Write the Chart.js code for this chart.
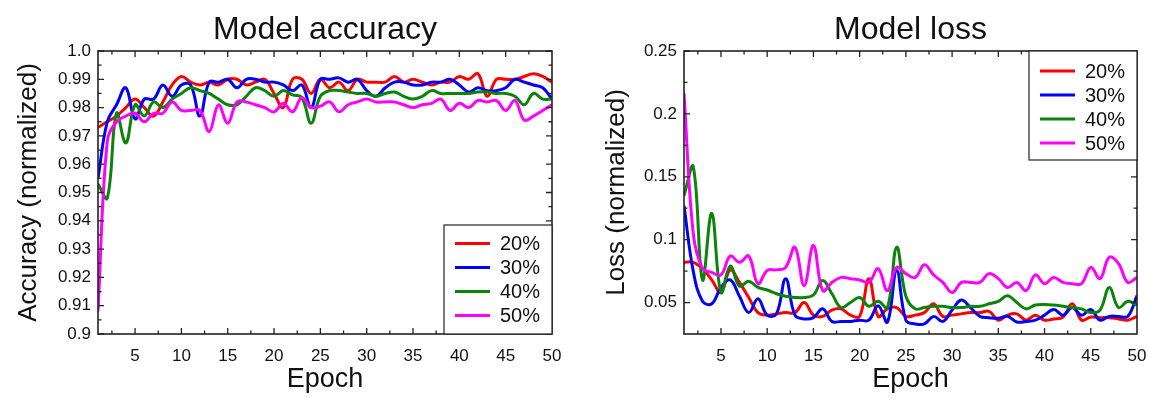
<!DOCTYPE html>
<html>
<head>
<meta charset="utf-8">
<script src="https://cdn.jsdelivr.net/npm/chart.js@4.4.1/dist/chart.umd.min.js"></script>
<style>
  html, body { margin: 0; padding: 0; background: #fff; }
  body { width: 1149px; height: 398px; position: relative; overflow: hidden; }
  .box { position: absolute; top: 0; height: 398px; }
  #accBox { left: 0; width: 562px; }
  #lossBox { left: 588px; width: 559px; }
</style>
</head>
<body>
<div class="box" id="accBox"><canvas id="accChart"></canvas></div>
<div class="box" id="lossBox"><canvas id="lossChart"></canvas></div>
<script>
// epochs + tick labels
const epochs = [1, 2, 3, 4, 5, 6, 7, 8, 9, 10, 11, 12, 13, 14, 15, 16, 17, 18, 19, 20,
  21, 22, 23, 24, 25, 26, 27, 28, 29, 30, 31, 32, 33, 34, 35, 36, 37, 38, 39, 40,
  41, 42, 43, 44, 45, 46, 47, 48, 49, 50];
const epochTicks = [5, 10, 15, 20, 25, 30, 35, 40, 45, 50];
const accTicks = [0.9, 0.91, 0.92, 0.93, 0.94, 0.95, 0.96, 0.97, 0.98, 0.99, 1.0];
const accTickLabels = ["0.9", "0.91", "0.92", "0.93", "0.94", "0.95", "0.96", "0.97", "0.98", "0.99", "1.0"];
const lossTicks = [0.05, 0.1, 0.15, 0.2, 0.25];
const lossTickLabels = ["0.05", "0.1", "0.15", "0.2", "0.25"];
const seriesNames = ["20%", "30%", "40%", "50%"];
const seriesColors = ["#ff0000", "#0000ff", "#0a850a", "#ff00ff"];

// accuracy (normalized)
const acc20 = [0.973, 0.975, 0.977, 0.980, 0.983, 0.980, 0.977, 0.982, 0.988, 0.991,
  0.989, 0.988, 0.989, 0.988, 0.990, 0.990, 0.988, 0.989, 0.990, 0.985,
  0.980, 0.990, 0.990, 0.985, 0.990, 0.987, 0.989, 0.986, 0.990, 0.989,
  0.989, 0.989, 0.991, 0.989, 0.990, 0.989, 0.988, 0.989, 0.989, 0.991,
  0.990, 0.992, 0.984, 0.990, 0.990, 0.990, 0.991, 0.992, 0.991, 0.989];
const acc30 = [0.955, 0.975, 0.981, 0.987, 0.976, 0.983, 0.983, 0.988, 0.984, 0.988,
  0.988, 0.977, 0.989, 0.989, 0.990, 0.987, 0.990, 0.990, 0.989, 0.989,
  0.988, 0.986, 0.988, 0.980, 0.990, 0.990, 0.9905, 0.989, 0.990, 0.986,
  0.984, 0.987, 0.989, 0.989, 0.988, 0.988, 0.989, 0.989, 0.990, 0.988,
  0.9855, 0.987, 0.986, 0.986, 0.987, 0.990, 0.989, 0.988, 0.987, 0.983];
const acc40 = [0.953, 0.948, 0.978, 0.9675, 0.981, 0.977, 0.982, 0.980, 0.983, 0.985,
  0.987, 0.986, 0.985, 0.983, 0.981, 0.981, 0.984, 0.987, 0.986, 0.984,
  0.986, 0.9845, 0.9835, 0.9745, 0.984, 0.986, 0.986, 0.9855, 0.985, 0.985,
  0.984, 0.985, 0.9855, 0.984, 0.983, 0.984, 0.986, 0.985, 0.985, 0.985,
  0.985, 0.9855, 0.9855, 0.985, 0.985, 0.984, 0.981, 0.985, 0.983, 0.983];
const acc50 = [0.908, 0.968, 0.975, 0.977, 0.978, 0.975, 0.978, 0.978, 0.982, 0.979,
  0.979, 0.979, 0.9715, 0.981, 0.9745, 0.982, 0.982, 0.981, 0.980, 0.9785,
  0.9815, 0.9785, 0.9835, 0.980, 0.9805, 0.982, 0.9785, 0.981, 0.982, 0.983,
  0.982, 0.982, 0.982, 0.981, 0.980, 0.981, 0.9815, 0.983, 0.979, 0.9815,
  0.980, 0.9825, 0.982, 0.9825, 0.979, 0.9825, 0.9756, 0.977, 0.979, 0.981];

// loss (normalized)
const loss20 = [0.082, 0.082, 0.077, 0.068, 0.058, 0.076, 0.066, 0.054, 0.042, 0.040,
  0.041, 0.042, 0.042, 0.050, 0.040, 0.039, 0.044, 0.045, 0.040, 0.039,
  0.069, 0.039, 0.045, 0.046, 0.039, 0.040, 0.042, 0.049, 0.039, 0.040,
  0.041, 0.042, 0.042, 0.043, 0.036, 0.040, 0.041, 0.036, 0.040, 0.036,
  0.037, 0.0385, 0.049, 0.036, 0.0385, 0.038, 0.038, 0.037, 0.036, 0.039];
const loss30 = [0.127, 0.075, 0.051, 0.049, 0.062, 0.068, 0.055, 0.042, 0.053, 0.040,
  0.041, 0.069, 0.040, 0.037, 0.038, 0.045, 0.035, 0.035, 0.035, 0.036,
  0.036, 0.0475, 0.0345, 0.0755, 0.036, 0.033, 0.033, 0.039, 0.035, 0.044,
  0.052, 0.046, 0.039, 0.038, 0.0375, 0.039, 0.0345, 0.035, 0.036, 0.040,
  0.0445, 0.040, 0.046, 0.040, 0.0445, 0.036, 0.039, 0.039, 0.039, 0.0555];
const loss40 = [0.135, 0.158, 0.068, 0.121, 0.058, 0.079, 0.063, 0.067, 0.062, 0.060,
  0.057, 0.055, 0.054, 0.054, 0.056, 0.0675, 0.057, 0.046, 0.050, 0.054,
  0.047, 0.051, 0.046, 0.094, 0.055, 0.045, 0.046, 0.047, 0.047, 0.046,
  0.046, 0.047, 0.047, 0.049, 0.051, 0.0555, 0.050, 0.045, 0.048, 0.0485,
  0.048, 0.047, 0.046, 0.045, 0.042, 0.044, 0.062, 0.046, 0.051, 0.048];
const loss50 = [0.2165, 0.105, 0.077, 0.074, 0.072, 0.087, 0.082, 0.087, 0.065, 0.0755,
  0.076, 0.078, 0.094, 0.0635, 0.0955, 0.0595, 0.066, 0.070, 0.069, 0.068,
  0.066, 0.077, 0.0595, 0.078, 0.073, 0.070, 0.080, 0.072, 0.066, 0.058,
  0.066, 0.066, 0.066, 0.073, 0.069, 0.062, 0.066, 0.0595, 0.072, 0.065,
  0.070, 0.066, 0.065, 0.065, 0.078, 0.069, 0.086, 0.081, 0.066, 0.070];

Chart.defaults.font.family = '"Liberation Sans", Arial, sans-serif';
Chart.defaults.color = "#111";

// frame, inward ticks on all four sides, title, boxed legend
const plotDecor = {
  id: "plotDecor",
  afterDatasetsDraw(chart, args, opts) {
    const { ctx, chartArea: a, scales: { x, y } } = chart;
    ctx.save();
    ctx.strokeStyle = "#222";
    ctx.lineWidth = 1.3;
    ctx.beginPath();
    const xt = (v, len) => {
      const px = x.getPixelForValue(v);
      ctx.moveTo(px, a.bottom); ctx.lineTo(px, a.bottom - len);
      ctx.moveTo(px, a.top); ctx.lineTo(px, a.top + len);
    };
    const yt = (v, len) => {
      const py = y.getPixelForValue(v);
      ctx.moveTo(a.left, py); ctx.lineTo(a.left + len, py);
      ctx.moveTo(a.right, py); ctx.lineTo(a.right - len, py);
    };
    for (let v = 2.5; v < 50; v += 2.5) xt(v, v % 5 === 0 ? 6 : 3.5);
    for (let i = 1; i < opts.yMinor.length; i++) yt(opts.yMinor[i], 3.5);
    opts.yMajor.forEach(v => yt(v, 6));
    ctx.stroke();
    ctx.lineWidth = 1.6;
    ctx.strokeRect(a.left, a.top, a.right - a.left, a.bottom - a.top);

    // title
    ctx.fillStyle = "#111";
    ctx.font = '32px "Liberation Sans", Arial, sans-serif';
    ctx.textAlign = "center";
    ctx.textBaseline = "alphabetic";
    ctx.fillText(opts.title, (a.left + a.right) / 2, 39);

    // legend
    const lw = 108, lh = 109;
    const bx = a.right - lw;
    const by = opts.legendTop ? a.top : a.bottom - lh;
    ctx.fillStyle = "#fff";
    ctx.fillRect(bx, by, lw, lh);
    ctx.lineWidth = 1.2;
    ctx.strokeRect(bx, by, lw, lh);
    ctx.font = '20px "Liberation Sans", Arial, sans-serif';
    ctx.textAlign = "left";
    ctx.textBaseline = "middle";
    chart.data.datasets.forEach((ds, i) => {
      const ry = by + opts.rowStart + i * 24;
      ctx.strokeStyle = ds.borderColor;
      ctx.lineWidth = 3;
      ctx.beginPath();
      ctx.moveTo(bx + 11, ry); ctx.lineTo(bx + 46, ry);
      ctx.stroke();
      ctx.fillStyle = "#111";
      ctx.fillText(ds.label, bx + 56, ry + 1);
    });
    ctx.restore();
  }
};

function makeSets(list) {
  return list.map((vals, i) => ({
    label: seriesNames[i],
    data: epochs.map((e, j) => ({ x: e, y: vals[j] })),
    borderColor: seriesColors[i],
    borderWidth: 3,
    pointRadius: 0,
    tension: 0.4,
    fill: false,
    order: list.length - i
  }));
}

function minorList(min, max, step) {
  const out = [];
  for (let v = min; v <= max + 1e-9; v += step) out.push(+v.toFixed(4));
  return out;
}

function makeChart(id, sets, yMin, yMax, yTicks, yLabels, yTitle, decor, yWidth) {
  new Chart(document.getElementById(id), {
    type: "line",
    data: { datasets: sets },
    options: {
      responsive: true,
      maintainAspectRatio: false,
      animation: false,
      layout: { padding: { top: 51, bottom: 0, left: 0, right: 0 } },
      plugins: { legend: { display: false }, tooltip: { enabled: false }, plotDecor: decor },
      scales: {
        x: {
          type: "linear", min: 1, max: 50,
          afterBuildTicks: s => { s.ticks = epochTicks.map(v => ({ value: v })); },
          afterFit: s => { s.height = 64; s.paddingRight = 10; s.paddingLeft = 0; },
          ticks: { font: { size: 17 }, padding: 12, maxRotation: 0 },
          grid: { display: false, drawTicks: false },
          border: { display: false },
          title: { display: true, text: "Epoch", font: { size: 27 }, padding: { top: 0, bottom: 2 } }
        },
        y: {
          min: yMin, max: yMax,
          afterBuildTicks: s => { s.ticks = yTicks.map(v => ({ value: v })); },
          afterFit: s => { s.width = yWidth; },
          ticks: { font: { size: 17 }, padding: 7, callback: (v, i) => yLabels[i] },
          grid: { display: false, drawTicks: false },
          border: { display: false },
          title: { display: true, text: yTitle, font: { size: 26 }, padding: { top: 13, bottom: 0 } }
        }
      }
    },
    plugins: [plotDecor]
  });
}

makeChart("accChart", makeSets([acc20, acc30, acc40, acc50]), 0.9, 1.0, accTicks, accTickLabels,
  "Accuracy (normalized)",
  { title: "Model accuracy", yMajor: accTicks, yMinor: minorList(0.9, 1.0, 0.005), legendTop: false, rowStart: 18.5 },
  98);

makeChart("lossChart", makeSets([loss20, loss30, loss40, loss50]), 0.025, 0.25, lossTicks, lossTickLabels,
  "Loss (normalized)",
  { title: "Model loss", yMajor: lossTicks, yMinor: minorList(0.025, 0.25, 0.025), legendTop: true, rowStart: 20 },
  96);
</script>
</body>
</html>
